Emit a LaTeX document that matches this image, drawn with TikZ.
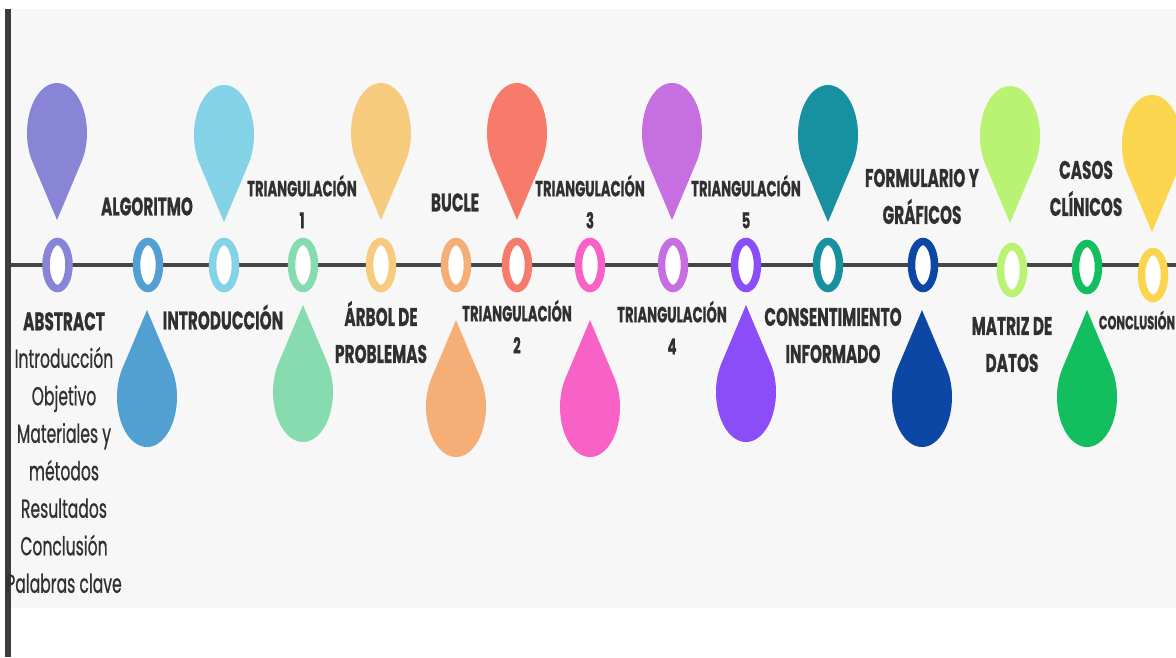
\documentclass[tikz,border=0pt]{standalone}
\usepackage{fontspec}
\usepackage{graphicx}
\setmainfont{Poppins}[BoldFeatures={FakeBold=0.8}]
\newfontfamily\listfont{Poppins}[FakeBold=0.9]
\usetikzlibrary{shapes.geometric}
\definecolor{panel}{HTML}{F7F7F7}
\definecolor{barc}{HTML}{3C3C3C}
\definecolor{tl}{HTML}{454545}
\definecolor{txt}{HTML}{303030}
\definecolor{cA}{HTML}{8884D6}
\definecolor{cB}{HTML}{52A0D2}
\definecolor{cC}{HTML}{84D2E6}
\definecolor{cD}{HTML}{86DCAE}
\definecolor{cE}{HTML}{F7CB7E}
\definecolor{cF}{HTML}{F5AF76}
\definecolor{cG}{HTML}{F77B6B}
\definecolor{cH}{HTML}{F862C6}
\definecolor{cI}{HTML}{C56FE0}
\definecolor{cJ}{HTML}{8A4DF7}
\definecolor{cK}{HTML}{17909F}
\definecolor{cL}{HTML}{0C47A6}
\definecolor{cM}{HTML}{BAF373}
\definecolor{cN}{HTML}{13BE5F}
\definecolor{cO}{HTML}{FBD54E}
\newcommand\sq[1]{\scalebox{0.6}[1]{\begin{tabular}{@{}c@{}}#1\end{tabular}}}
\tikzset{
  ring/.style={ellipse, draw=#1, fill=white, line width=7.5pt, minimum width=23pt, minimum height=47pt, inner sep=0pt},
  lab/.style={text=txt, inner sep=0pt, font=\bfseries\fontsize{25.5}{37}\selectfont},
  tri/.style={text=txt, inner sep=0pt, font=\bfseries\fontsize{22}{32}\selectfont},
  small/.style={text=txt, inner sep=0pt, font=\bfseries\fontsize{19}{20}\selectfont},
  list/.style={text=txt, inner sep=0pt, font=\listfont\fontsize{26}{37.5}\selectfont},
  dropsize/.style={xscale=30, yscale=50},
  dropdn/.pic={\fill (0,1.74) -- (35.1:1) arc[start angle=35.1, end angle=-215.1, radius=1] -- cycle;},
  dropup/.pic={\fill (0,-1.74) -- (-35.1:1) arc[start angle=-35.1, end angle=215.1, radius=1] -- cycle;}
}
\begin{document}
\begin{tikzpicture}[x=1pt, y=-1pt]
\useasboundingbox (0,0) rectangle (1176,657);
\clip (0,0) rectangle (1176,657);
\fill[white] (0,0) rectangle (1176,657);
\fill[panel] (11,9) rectangle (1176,608);
\fill[barc] (5,9) rectangle (11,657);
% drops above
\path (57,133) pic[cA, dropsize] {dropdn};
\path (224,135) pic[cC, dropsize] {dropdn};
\path (381,133) pic[cE, dropsize] {dropdn};
\path (517,133) pic[cG, dropsize] {dropdn};
\path (672,133) pic[cI, dropsize] {dropdn};
\path (828,135) pic[cK, dropsize] {dropdn};
\path (1010,136) pic[cM, dropsize] {dropdn};
\path (1152,145) pic[cO, dropsize] {dropdn};
% drops below
\path (147,397) pic[cB, dropsize] {dropup};
\path (303,392) pic[cD, dropsize] {dropup};
\path (456,407) pic[cF, dropsize] {dropup};
\path (590,407) pic[cH, dropsize] {dropup};
\path (746,392) pic[cJ, dropsize] {dropup};
\path (922,397) pic[cL, dropsize] {dropup};
\path (1087,397) pic[cN, dropsize] {dropup};
% timeline
\coordinate (L) at (11,265);
\coordinate (R) at (1176,265);
\draw[tl, line width=4pt] (L) -- (R);
\node[ring=cA] (r1) at (57.5,265) {};
\node[ring=cB] (r2) at (148,265) {};
\node[ring=cC] (r3) at (224,265) {};
\node[ring=cD] (r4) at (303,265) {};
\node[ring=cE] (r5) at (381,265) {};
\node[ring=cF] (r6) at (456,265) {};
\node[ring=cG] (r7) at (517,265) {};
\node[ring=cH] (r8) at (590,265) {};
\node[ring=cI] (r9) at (673,265) {};
\node[ring=cJ] (r10) at (746,265) {};
\node[ring=cK] (r11) at (828,265) {};
\node[ring=cL] (r12) at (923,265) {};
\node[ring=cM] (r13) at (1012,270) {};
\node[ring=cN] (r14) at (1087,267) {};
\node[ring=cO] (r15) at (1153,275) {};
% labels above
\node[lab] (t2) at (147,208) {\sq{ALGORITMO}};
\node[tri] (t4) at (302,206) {\sq{TRIANGULACIÓN\\1}};
\node[lab] (t6) at (455,204) {\sq{BUCLE}};
\node[tri] (t8) at (590,206) {\sq{TRIANGULACIÓN\\3}};
\node[tri] (t10) at (746,206) {\sq{TRIANGULACIÓN\\5}};
\node[lab] (t12) at (922,198) {\sq{FORMULARIO Y\\GRÁFICOS}};
\node[lab] (t14) at (1086,190) {\sq{CASOS\\CLÍNICOS}};
% labels below
\node[list] (t1) at (64,454) {\sq{{\bfseries\fontsize{25.5}{37.5}\selectfont ABSTRACT}\\Introducción\\Objetivo\\Materiales y\\métodos\\Resultados\\Conclusión\\Palabras clave}};
\node[lab] (t3) at (223,322) {\sq{INTRODUCCIÓN}};
\node[lab] (t5) at (381,337) {\sq{ÁRBOL DE\\PROBLEMAS}};
\node[tri] (t7) at (517,331) {\sq{TRIANGULACIÓN\\2}};
\node[tri] (t9) at (672,332) {\sq{TRIANGULACIÓN\\4}};
\node[lab] (t11) at (833,337) {\sq{CONSENTIMIENTO\\INFORMADO}};
\node[lab] (t13) at (1012,346) {\sq{MATRIZ DE\\DATOS}};
\node[small] (t15) at (1137,323) {\sq{CONCLUSIÓN}};
\end{tikzpicture}
\end{document}
